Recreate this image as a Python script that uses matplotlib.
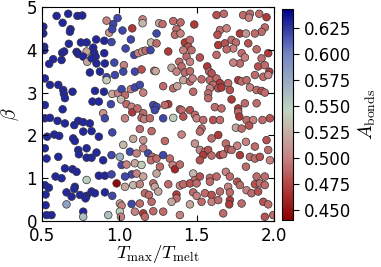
import numpy as np
import matplotlib
matplotlib.use("Agg")
import matplotlib.pyplot as plt
from matplotlib.colors import LinearSegmentedColormap, Normalize

plt.rcParams['mathtext.fontset'] = 'cm'

# upper left part of the plane
t_ul = [0.595, 0.670, 0.730, 0.761, 0.634, 0.685, 0.681, 0.509, 0.509, 0.961,
        0.989, 1.021, 0.918, 0.935, 1.084, 1.151, 1.151, 1.075, 0.955, 0.789,
        0.752, 0.851, 0.903, 0.950, 0.674, 0.724, 0.515, 0.515, 0.631, 0.644,
        0.573, 0.627, 0.547, 0.735, 0.789, 0.767, 0.793, 0.832, 0.838, 0.847,
        0.821, 0.853, 0.903, 1.041, 1.097, 1.123, 1.149, 1.170, 1.205, 1.030,
        0.968, 0.907, 0.810, 0.875, 0.918, 0.918, 0.972, 1.026, 1.101, 1.144,
        1.226, 0.519, 0.552, 0.606, 0.638, 0.642, 0.649, 0.698, 0.843, 0.901,
        0.955, 0.993, 1.015, 1.075, 1.101, 1.133, 1.155, 1.037, 0.827, 0.868,
        0.946, 1.011, 1.047, 1.080, 1.155, 1.226, 0.519, 0.634, 0.896]
b_ul = [4.79, 4.84, 4.79, 4.80, 4.63, 4.48, 4.42, 4.54, 4.38, 4.60,
        4.74, 4.45, 4.68, 4.40, 4.50, 4.71, 4.62, 4.24, 4.48, 4.17,
        4.17, 4.24, 4.21, 4.18, 4.14, 3.95, 4.07, 3.99, 3.93, 3.96,
        3.78, 3.76, 3.67, 3.90, 3.96, 3.84, 3.72, 4.05, 3.93, 3.84,
        3.80, 3.68, 3.92, 4.03, 3.88, 3.92, 3.96, 3.98, 4.17, 3.64,
        3.70, 3.68, 3.47, 3.49, 3.36, 3.29, 3.41, 3.49, 3.49, 3.54,
        3.51, 3.33, 3.18, 3.18, 3.06, 2.97, 2.87, 3.02, 3.04, 3.02,
        2.97, 2.98, 3.08, 3.08, 3.12, 3.18, 3.00, 2.94, 2.79, 2.79,
        2.73, 2.84, 2.73, 2.67, 2.52, 2.67, 2.71, 2.61, 2.52]
a_ul = [0.63, 0.63, 0.63, 0.63, 0.63, 0.63, 0.63, 0.63, 0.63, 0.62,
        0.62, 0.62, 0.50, 0.51, 0.47, 0.50, 0.53, 0.62, 0.62, 0.63,
        0.63, 0.63, 0.63, 0.62, 0.63, 0.63, 0.63, 0.63, 0.63, 0.63,
        0.63, 0.63, 0.63, 0.63, 0.52, 0.63, 0.52, 0.63, 0.63, 0.63,
        0.63, 0.63, 0.63, 0.62, 0.62, 0.50, 0.51, 0.49, 0.53, 0.50,
        0.62, 0.63, 0.63, 0.63, 0.62, 0.54, 0.62, 0.62, 0.62, 0.48,
        0.50, 0.63, 0.63, 0.63, 0.63, 0.63, 0.63, 0.63, 0.63, 0.63,
        0.52, 0.50, 0.62, 0.50, 0.62, 0.62, 0.50, 0.49, 0.63, 0.63,
        0.62, 0.53, 0.49, 0.50, 0.49, 0.62, 0.63, 0.63, 0.51]

# upper right part
t_ur = [1.241, 1.258, 1.280, 1.241, 1.202, 1.317, 1.349, 1.396, 1.485, 1.370,
        1.360, 1.396, 1.424, 1.457, 1.446, 1.467, 1.414, 1.435, 1.388, 1.457,
        1.403, 1.521, 1.235, 1.338, 1.370, 1.424, 1.457, 1.414, 1.457, 1.474,
        1.569, 1.582, 1.597, 1.532, 1.629, 1.676, 1.801, 1.845, 1.838, 1.905,
        1.952, 1.941, 1.920, 1.651, 1.635, 1.694, 1.780, 1.819, 1.877, 1.640,
        1.683, 1.726, 1.754, 1.737, 1.694, 1.834, 1.629, 1.791, 1.812, 1.888,
        1.963, 1.920, 1.898, 1.941, 1.970, 1.780, 1.737, 1.586, 1.629, 1.651,
        1.607, 1.640, 1.661, 1.586, 1.575, 1.704, 1.715, 1.769, 1.791, 1.823,
        1.845, 1.888, 1.920, 1.941, 1.877, 1.931, 1.963, 1.284, 1.349, 1.375,
        1.478, 1.220, 1.241, 1.317, 1.295, 1.392, 1.457, 1.575, 1.618, 1.661,
        1.726, 1.769, 1.812, 1.888]
b_ur = [4.38, 4.62, 4.60, 4.15, 3.99, 3.96, 4.67, 4.64, 4.59, 4.48,
        4.35, 4.38, 4.17, 4.23, 4.07, 3.99, 3.99, 3.84, 3.72, 3.72,
        3.61, 3.82, 3.50, 3.58, 3.49, 3.47, 3.50, 3.29, 3.26, 3.33,
        3.61, 3.49, 3.45, 3.31, 4.81, 4.84, 4.81, 4.84, 4.75, 4.84,
        4.76, 4.52, 4.42, 4.46, 4.35, 4.50, 4.38, 4.38, 4.38, 4.11,
        4.15, 4.23, 4.17, 4.03, 4.01, 4.15, 3.88, 3.92, 3.82, 4.01,
        3.92, 3.80, 3.61, 3.64, 3.49, 3.68, 3.70, 3.29, 3.33, 3.22,
        3.18, 3.10, 3.12, 3.10, 2.98, 3.22, 3.06, 3.29, 3.26, 3.29,
        3.12, 3.06, 3.04, 3.00, 3.41, 3.37, 3.41, 3.15, 3.10, 3.15,
        3.02, 2.71, 2.67, 2.73, 2.71, 2.61, 2.59, 2.87, 2.66, 2.63,
        2.84, 2.63, 2.75, 2.75]
a_ur = [0.62, 0.52, 0.49, 0.49, 0.62, 0.47, 0.49, 0.49, 0.47, 0.49,
        0.49, 0.50, 0.47, 0.49, 0.48, 0.49, 0.50, 0.49, 0.49, 0.50,
        0.49, 0.48, 0.52, 0.52, 0.50, 0.49, 0.49, 0.52, 0.49, 0.50,
        0.47, 0.49, 0.48, 0.49, 0.48, 0.49, 0.49, 0.49, 0.50, 0.49,
        0.47, 0.49, 0.49, 0.49, 0.48, 0.50, 0.47, 0.51, 0.49, 0.47,
        0.48, 0.49, 0.49, 0.50, 0.49, 0.48, 0.49, 0.49, 0.50, 0.49,
        0.47, 0.49, 0.48, 0.49, 0.47, 0.49, 0.50, 0.49, 0.49, 0.47,
        0.49, 0.48, 0.47, 0.50, 0.49, 0.49, 0.48, 0.47, 0.49, 0.49,
        0.50, 0.49, 0.48, 0.49, 0.49, 0.49, 0.50, 0.49, 0.49, 0.52,
        0.49, 0.62, 0.62, 0.47, 0.49, 0.49, 0.48, 0.49, 0.49, 0.49,
        0.47, 0.47, 0.49, 0.49]

# lower left part
t_ll = [0.519, 0.552, 0.601, 0.649, 0.709, 0.735, 0.767, 0.810, 0.907, 1.037,
        1.084, 1.118, 1.144, 1.161, 1.198, 0.534, 0.580, 0.612, 0.702, 0.713,
        0.767, 0.821, 0.868, 0.955, 1.090, 1.133, 1.155, 1.209, 0.519, 0.530,
        0.606, 0.735, 0.739, 0.789, 0.789, 0.821, 0.853, 0.896, 0.950, 1.004,
        1.026, 1.069, 1.112, 1.155, 1.187, 1.213, 1.015, 1.047, 1.101, 1.144,
        1.205, 0.649, 0.698, 0.724, 0.588, 0.627, 0.789, 0.868, 0.907, 0.950,
        0.983, 1.080, 1.112, 1.037, 1.155, 1.220, 0.519, 0.545, 0.713, 0.709,
        0.659, 0.746, 0.789, 0.821, 0.843, 0.907, 0.955, 1.037, 1.090, 1.133,
        1.166, 1.192, 0.524, 0.692, 0.782, 0.524, 0.659, 1.004, 1.015, 1.080,
        1.133, 1.209, 0.767, 0.929, 1.004, 1.101, 1.155, 1.220, 0.530, 0.562,
        0.767, 1.011, 1.166]
b_ll = [2.40, 2.41, 2.34, 2.28, 2.24, 2.34, 2.31, 2.28, 2.40, 2.40,
        2.54, 2.63, 2.41, 2.38, 2.40, 1.97, 2.02, 1.99, 1.93, 1.87,
        2.09, 2.10, 1.97, 2.07, 1.92, 2.15, 1.89, 2.10, 1.70, 1.46,
        1.50, 1.66, 1.56, 1.70, 1.48, 1.48, 1.60, 1.42, 1.54, 1.50,
        1.78, 1.62, 1.58, 1.70, 1.58, 1.50, 1.31, 1.32, 1.35, 1.31,
        1.42, 1.23, 1.21, 1.15, 1.04, 1.00, 0.96, 1.06, 1.06, 1.09,
        0.88, 1.09, 1.11, 1.04, 1.04, 0.88, 0.84, 0.78, 0.80, 0.75,
        0.67, 0.61, 0.59, 0.69, 0.65, 0.67, 0.59, 0.80, 0.84, 0.86,
        0.65, 0.61, 0.62, 0.57, 0.53, 0.37, 0.39, 0.41, 0.36, 0.40,
        0.41, 0.45, 0.22, 0.14, 0.22, 0.22, 0.18, 0.23, 0.14, 0.14,
        0.10, 0.10, 0.10]
a_ll = [0.63, 0.63, 0.63, 0.63, 0.63, 0.63, 0.63, 0.63, 0.62, 0.50,
        0.47, 0.49, 0.49, 0.50, 0.49, 0.63, 0.63, 0.63, 0.63, 0.63,
        0.63, 0.63, 0.63, 0.62, 0.52, 0.49, 0.51, 0.49, 0.63, 0.63,
        0.63, 0.63, 0.63, 0.63, 0.63, 0.63, 0.63, 0.63, 0.62, 0.57,
        0.53, 0.62, 0.50, 0.50, 0.62, 0.49, 0.62, 0.50, 0.52, 0.54,
        0.49, 0.63, 0.63, 0.63, 0.63, 0.63, 0.55, 0.63, 0.63, 0.62,
        0.445, 0.62, 0.50, 0.62, 0.52, 0.49, 0.63, 0.63, 0.63, 0.63,
        0.63, 0.63, 0.63, 0.63, 0.63, 0.63, 0.62, 0.52, 0.53, 0.50,
        0.49, 0.49, 0.63, 0.63, 0.63, 0.63, 0.58, 0.52, 0.50, 0.62,
        0.49, 0.49, 0.63, 0.56, 0.54, 0.50, 0.47, 0.49, 0.63, 0.63,
        0.56, 0.50, 0.49]

# lower right part
t_lr = [1.230, 1.284, 1.349, 1.403, 1.414, 1.489, 1.500, 1.543, 1.607, 1.651,
        1.769, 1.776, 1.823, 1.866, 1.926, 1.974, 1.532, 1.521, 1.403, 1.597,
        1.640, 1.754, 1.791, 1.840, 1.295, 1.489, 1.689, 1.819, 1.877, 1.952,
        1.963, 1.241, 1.284, 1.327, 1.521, 1.554, 1.575, 1.543, 1.597, 1.651,
        1.672, 1.704, 1.726, 1.763, 1.780, 1.845, 1.877, 1.909, 1.263, 1.345,
        1.360, 1.392, 1.521, 1.819, 1.974, 1.241, 1.478, 1.489, 1.521, 1.586,
        1.629, 1.689, 1.715, 1.763, 1.888, 1.941, 1.230, 1.317, 1.392, 1.414,
        1.457, 1.500, 1.586, 1.704, 1.780, 1.877, 1.909, 1.941, 1.252, 1.370,
        1.478, 1.500, 1.554, 1.597, 1.651, 1.715, 1.823, 1.855, 1.898, 1.370,
        1.338, 1.457, 1.532, 1.597, 1.640, 1.715, 1.711, 1.791, 1.931, 1.963,
        1.284, 1.392, 1.672, 1.941, 1.995]
b_lr = [2.59, 2.40, 2.41, 2.59, 2.44, 2.48, 2.40, 2.36, 2.36, 2.36,
        2.55, 2.44, 2.36, 2.36, 2.36, 2.40, 2.16, 2.09, 2.02, 1.93,
        2.01, 2.18, 2.16, 2.23, 1.87, 1.81, 1.81, 1.85, 1.74, 1.89,
        1.66, 1.46, 1.54, 1.46, 1.66, 1.62, 1.66, 1.54, 1.53, 1.54,
        1.56, 1.68, 1.66, 1.76, 1.54, 1.50, 1.46, 1.50, 1.27, 1.31,
        1.21, 1.32, 1.42, 1.27, 1.42, 1.11, 1.11, 0.96, 1.04, 1.01,
        1.04, 1.15, 1.04, 0.92, 1.04, 1.04, 0.80, 0.86, 0.83, 0.86,
        0.88, 0.88, 0.92, 0.80, 0.84, 0.86, 0.88, 0.84, 0.69, 0.62,
        0.67, 0.59, 0.65, 0.61, 0.69, 0.67, 0.72, 0.65, 0.69, 0.53,
        0.45, 0.39, 0.45, 0.45, 0.49, 0.49, 0.39, 0.41, 0.45, 0.39,
        0.22, 0.14, 0.18, 0.10, 0.14]
a_lr = [0.62, 0.62, 0.54, 0.49, 0.48, 0.49, 0.50, 0.49, 0.48, 0.49,
        0.49, 0.47, 0.49, 0.50, 0.49, 0.48, 0.49, 0.49, 0.50, 0.49,
        0.47, 0.52, 0.49, 0.48, 0.49, 0.51, 0.49, 0.50, 0.49, 0.48,
        0.49, 0.49, 0.62, 0.49, 0.50, 0.49, 0.48, 0.47, 0.49, 0.47,
        0.49, 0.48, 0.49, 0.50, 0.47, 0.49, 0.49, 0.48, 0.49, 0.50,
        0.46, 0.49, 0.48, 0.49, 0.50, 0.52, 0.53, 0.49, 0.48, 0.49,
        0.49, 0.50, 0.49, 0.48, 0.49, 0.49, 0.52, 0.49, 0.50, 0.49,
        0.48, 0.49, 0.49, 0.50, 0.49, 0.48, 0.49, 0.49, 0.52, 0.47,
        0.49, 0.50, 0.49, 0.48, 0.49, 0.49, 0.50, 0.49, 0.48, 0.49,
        0.52, 0.52, 0.49, 0.50, 0.49, 0.47, 0.47, 0.49, 0.48, 0.49,
        0.49, 0.50, 0.49, 0.48, 0.49]

t_ratio = np.array(t_ul + t_ur + t_ll + t_lr)
beta = np.array(b_ul + b_ur + b_ll + b_lr)
a_bonds = np.array(a_ul + a_ur + a_ll + a_lr)

cbar_ticks = [0.450, 0.475, 0.500, 0.525, 0.550, 0.575, 0.600, 0.625]

cmap = LinearSegmentedColormap.from_list(
    "bonds",
    [(0.0, "#8b0000"), (0.15, "#b03c3c"), (0.30, "#c88484"),
     (0.52, "#c0d4c0"), (0.79, "#7484c4"), (1.0, "#00008b")])
norm = Normalize(vmin=0.44, vmax=0.643)

fig = plt.figure(figsize=(3.81, 2.67), dpi=100)
ax = fig.add_axes([0.110, 0.172, 0.609, 0.802])
cax = fig.add_axes([0.740, 0.176, 0.029, 0.790])

sc = ax.scatter(t_ratio, beta, c=a_bonds, cmap=cmap, norm=norm, s=30,
                edgecolors="#333333", linewidths=0.5)

ax.set_xlim(0.5, 2.0)
ax.set_ylim(0, 5)
ax.set_xticks([0.5, 1.0, 1.5, 2.0])
ax.set_yticks([0, 1, 2, 3, 4, 5])
ax.tick_params(direction="in", top=True, right=True, labelsize=12, length=4)
ax.tick_params(axis="x", pad=4)
ax.set_xlabel(r"$T_{\rm max}/T_{\rm melt}$", fontsize=13.5, labelpad=-1)
ax.set_ylabel(r"$\beta$", fontsize=14, labelpad=4)

cb = fig.colorbar(sc, cax=cax, ticks=cbar_ticks, format="%.3f")
cb.outline.set_linewidth(0.8)
cax.tick_params(labelsize=12, direction="out", length=4)
cb.set_label(r"$A_{\rm bonds}$", fontsize=14, labelpad=4)

fig.savefig("out.png", dpi=100)
